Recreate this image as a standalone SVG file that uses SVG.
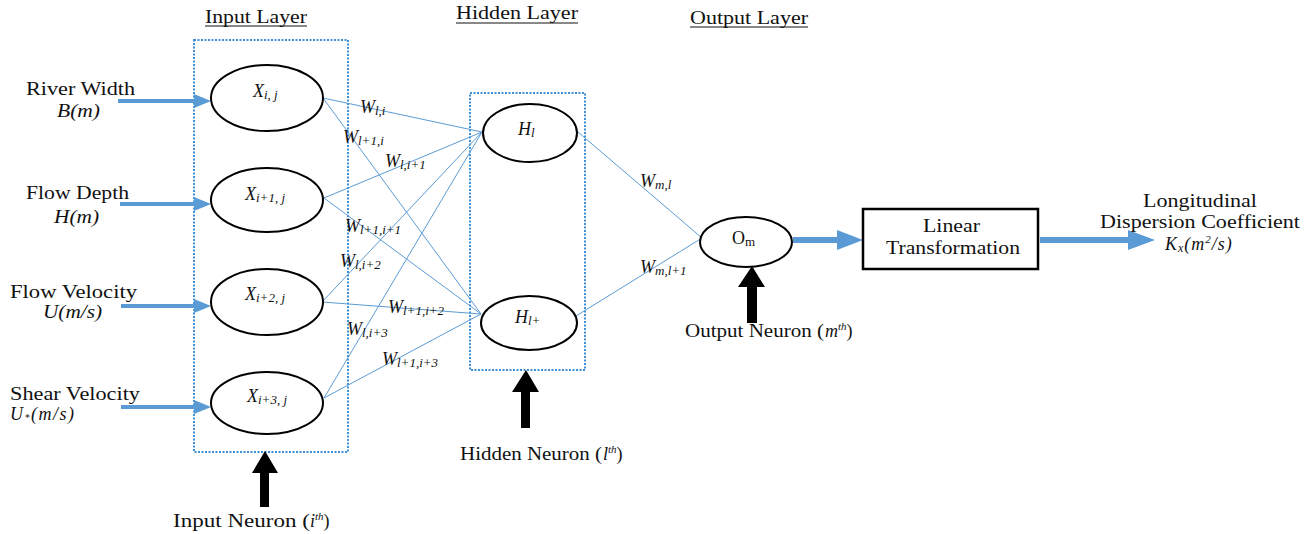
<svg xmlns="http://www.w3.org/2000/svg" width="1315" height="534" viewBox="0 0 1315 534">
  <style>
    text { font-family: "Liberation Serif", "Times New Roman", serif; fill: #111; }
    .lbl { font-size: 18px; }
    .it { font-style: italic; }
    .w { font-size: 18px; font-style: italic; }
    .sub { font-size: 13px; font-style: italic; }
    .sup { font-size: 11px; font-style: italic; }
    .node { fill: #fff; stroke: #000; stroke-width: 2; }
    .layer { fill: none; stroke: #3d8fd6; stroke-width: 2; stroke-dasharray: 2 1.5; }
    .wire { stroke: #5b9bd5; stroke-width: 1; fill: none; }
    .blue { fill: #5b9bd5; }
    .black { fill: #000; }
    .title { font-size: 18px; }
    .uline { stroke: #111; stroke-width: 1; }
  </style>

  <!-- layer titles -->
  <text class="title" x="205" y="23" textLength="102" lengthAdjust="spacingAndGlyphs">Input Layer</text>
  <line class="uline" x1="205" y1="26" x2="307" y2="26"/>
  <text class="title" x="456" y="19" textLength="122" lengthAdjust="spacingAndGlyphs">Hidden Layer</text>
  <line class="uline" x1="456" y1="23" x2="578" y2="23"/>
  <text class="title" x="690" y="24" textLength="118" lengthAdjust="spacingAndGlyphs">Output Layer</text>
  <line class="uline" x1="690" y1="27" x2="808" y2="27"/>

  <!-- layer frames -->
  <rect class="layer" x="194" y="40" width="154" height="412"/>
  <rect class="layer" x="470" y="93" width="115" height="277"/>

  <!-- weighted connections -->
  <g id="connectors">
    <line class="wire" x1="323" y1="98" x2="482" y2="132"/>
    <line class="wire" x1="323" y1="98" x2="481" y2="314"/>
    <line class="wire" x1="324" y1="198" x2="482" y2="132"/>
    <line class="wire" x1="324" y1="198" x2="481" y2="314"/>
    <line class="wire" x1="322" y1="302" x2="482" y2="132"/>
    <line class="wire" x1="322" y1="302" x2="481" y2="314"/>
    <line class="wire" x1="324" y1="398" x2="482" y2="132"/>
    <line class="wire" x1="324" y1="398" x2="481" y2="314"/>
    <line class="wire" x1="578" y1="132" x2="702" y2="238"/>
    <line class="wire" x1="576" y1="316" x2="702" y2="238"/>

    <!-- input arrows -->
    <polygon class="blue" points="118,99 194,99 194,94 211,101 194,108 194,103 118,103"/>
    <polygon class="blue" points="120,202 194,202 194,197 211,204 194,211 194,206 120,206"/>
    <polygon class="blue" points="121,304 194,304 194,299 211,306 194,313 194,308 121,308"/>
    <polygon class="blue" points="121,405 194,405 194,400 211,407 194,414 194,409 121,409"/>

    <!-- output arrows -->
    <polygon class="blue" points="793,237 837,237 837,230 863,240 837,250 837,243 793,243"/>
    <polygon class="blue" points="1040,237 1128,237 1128,230 1155,240 1128,250 1128,243 1040,243"/>

    <!-- neuron markers -->
    <polygon class="black" points="265,451 278,473 269,473 269,507 260,507 260,473 252,473"/>
    <polygon class="black" points="526,370 539,392 530,392 530,428 521,428 521,392 512,392"/>
    <polygon class="black" points="752,266 765,287 757,287 757,323 747,323 747,287 738,287"/>
  </g>

  <!-- weight labels -->
  <text class="w" x="360" y="113">W<tspan class="sub" dy="2">l,i</tspan></text>
  <text class="w" x="343" y="143">W<tspan class="sub" dy="2">l+1,i</tspan></text>
  <text class="w" x="385" y="167">W<tspan class="sub" dy="2">l,i+1</tspan></text>
  <text class="w" x="345" y="232">W<tspan class="sub" dy="2">l+1,i+1</tspan></text>
  <text class="w" x="340" y="267">W<tspan class="sub" dy="2">l,i+2</tspan></text>
  <text class="w" x="388" y="313">W<tspan class="sub" dy="2">l+1,i+2</tspan></text>
  <text class="w" x="347" y="335">W<tspan class="sub" dy="2">l,i+3</tspan></text>
  <text class="w" x="382" y="365">W<tspan class="sub" dy="2">l+1,i+3</tspan></text>
  <text class="w" x="640" y="187">W<tspan class="sub" dy="2">m,l</tspan></text>
  <text class="w" x="640" y="273">W<tspan class="sub" dy="2">m,l+1</tspan></text>

  <!-- input variables -->
  <text class="lbl" x="26" y="95" textLength="109" lengthAdjust="spacingAndGlyphs">River Width</text>
  <text class="lbl it" x="57" y="117" textLength="43" lengthAdjust="spacingAndGlyphs">B(m)</text>
  <text class="lbl" x="26" y="199" textLength="103" lengthAdjust="spacingAndGlyphs">Flow Depth</text>
  <text class="lbl it" x="54" y="223" textLength="45" lengthAdjust="spacingAndGlyphs">H(m)</text>
  <text class="lbl" x="10" y="298" textLength="127" lengthAdjust="spacingAndGlyphs">Flow Velocity</text>
  <text class="lbl it" x="43" y="318" textLength="59" lengthAdjust="spacingAndGlyphs">U(m/s)</text>
  <text class="lbl" x="10" y="400" textLength="130" lengthAdjust="spacingAndGlyphs">Shear Velocity</text>
  <text class="lbl it" x="10" y="420" letter-spacing="1.5">U<tspan font-size="10" dy="1">*</tspan><tspan dy="-1">(m/s)</tspan></text>

  <!-- input neurons -->
  <g id="x1">
    <ellipse class="node" cx="267" cy="98" rx="56" ry="33"/>
    <text class="w" x="253" y="97">X<tspan class="sub" dy="2">i, j</tspan></text>
  </g>
  <g id="x2">
    <ellipse class="node" cx="267" cy="200" rx="56" ry="32"/>
    <text class="w" x="245" y="200">X<tspan class="sub" dy="2">i+1, j</tspan></text>
  </g>
  <g id="x3">
    <ellipse class="node" cx="267" cy="302" rx="56" ry="33"/>
    <text class="w" x="245" y="300">X<tspan class="sub" dy="2">i+2, j</tspan></text>
  </g>
  <g id="x4">
    <ellipse class="node" cx="267" cy="403" rx="56" ry="31"/>
    <text class="w" x="247" y="402">X<tspan class="sub" dy="2">i+3, j</tspan></text>
  </g>

  <!-- hidden neurons -->
  <g id="h1">
    <ellipse class="node" cx="530" cy="133" rx="47" ry="29"/>
    <text class="w" x="518" y="135">H<tspan class="sub" dy="2">l</tspan></text>
  </g>
  <g id="h2">
    <ellipse class="node" cx="529" cy="323" rx="48" ry="27"/>
    <text class="w" x="515" y="323">H<tspan class="sub" dy="2">l+</tspan></text>
  </g>

  <!-- output neuron -->
  <g id="om">
    <ellipse class="node" cx="746" cy="242" rx="46" ry="25"/>
    <text class="lbl" x="732" y="244">O<tspan font-size="13" dy="2">m</tspan></text>
  </g>

  <!-- linear transformation -->
  <g id="linear">
    <rect x="863" y="209" width="175" height="60" fill="#fff" stroke="#000" stroke-width="2.5"/>
    <text class="lbl" x="923" y="232" textLength="57" lengthAdjust="spacingAndGlyphs">Linear</text>
    <text class="lbl" x="886" y="254" textLength="134" lengthAdjust="spacingAndGlyphs">Transformation</text>
  </g>

  <!-- result -->
  <text class="lbl" x="1143" y="207" textLength="114" lengthAdjust="spacingAndGlyphs">Longitudinal</text>
  <text class="lbl" x="1100" y="228" textLength="200" lengthAdjust="spacingAndGlyphs">Dispersion Coefficient</text>
  <text class="lbl it" x="1165" y="250" letter-spacing="1">K<tspan font-size="12" dy="2">x</tspan><tspan dy="-2">(m</tspan><tspan font-size="11" dy="-7">2</tspan><tspan dy="7">/s)</tspan></text>

  <!-- neuron captions -->
  <text class="lbl" x="173" y="527" textLength="137" lengthAdjust="spacingAndGlyphs">Input Neuron (</text>
  <text class="lbl" x="310" y="527"><tspan class="it">i</tspan><tspan class="sup" dy="-7">th</tspan><tspan dy="7">)</tspan></text>
  <text class="lbl" x="460" y="460" textLength="142" lengthAdjust="spacingAndGlyphs">Hidden Neuron (</text>
  <text class="lbl" x="603" y="460"><tspan class="it">l</tspan><tspan class="sup" dy="-7">th</tspan><tspan dy="7">)</tspan></text>
  <text class="lbl" x="685" y="337" textLength="139" lengthAdjust="spacingAndGlyphs">Output Neuron (</text>
  <text class="lbl" x="825" y="337"><tspan class="it">m</tspan><tspan class="sup" dy="-7">th</tspan><tspan dy="7">)</tspan></text>
</svg>
